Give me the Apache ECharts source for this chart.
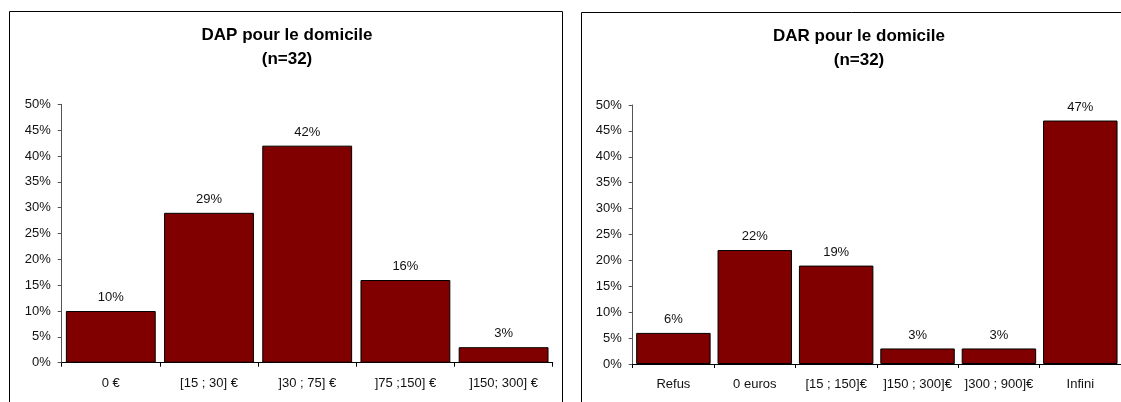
<!DOCTYPE html>
<html>
<head>
<meta charset="utf-8">
<script src="https://cdn.jsdelivr.net/npm/echarts@6/dist/echarts.min.js"></script>
<style>
html,body{margin:0;padding:0;background:#fff;}
#chart{width:1121px;height:402px;}
</style>
</head>
<body>
<div id="chart"></div>
<script>
const dapTitle = 'DAP pour le domicile\n(n=32)';
const darTitle = 'DAR pour le domicile\n(n=32)';
const dapCategories = ['0 €', '[15 ; 30] €', ']30 ; 75] €', ']75 ;150] €', ']150; 300] €'];
const dapValues = [10, 29, 42, 16, 3];
const darCategories = ['Refus', '0 euros', '[15 ; 150]€', ']150 ; 300]€', ']300 ; 900]€', 'Infini'];
const darValues = [6, 22, 19, 3, 3, 47];

const FONT = '"Liberation Sans", Arial, sans-serif';
const BAR = '#800000';

function yAxis(gi) {
  return {
    type: 'value', gridIndex: gi, min: 0, max: 50, interval: 5,
    axisLine: { show: true, lineStyle: { color: '#555', width: 1 } },
    axisTick: { show: true, length: 4, lineStyle: { color: '#555' } },
    splitLine: { show: false },
    axisLabel: { formatter: '{value}%', color: '#111', fontSize: 13, fontFamily: FONT, margin: 11 }
  };
}
function xAxis(gi, cats) {
  return {
    type: 'category', gridIndex: gi, data: cats,
    axisLine: { show: true, lineStyle: { color: '#000', width: 1 } },
    axisTick: { show: true, length: 4, alignWithLabel: false, lineStyle: { color: '#000' } },
    axisLabel: { color: '#111', fontSize: 13, fontFamily: FONT, margin: 14, interval: 0 }
  };
}
function bars(gi, vals) {
  return {
    type: 'bar', xAxisIndex: gi, yAxisIndex: gi, data: vals,
    barCategoryGap: '8.5%',
    itemStyle: { color: BAR, borderColor: '#000', borderWidth: 1 },
    label: { show: true, position: 'top', distance: 7, formatter: '{c}%', color: '#111', fontSize: 13, fontFamily: FONT },
    animation: false
  };
}

const chart = echarts.init(document.getElementById('chart'), null, { renderer: 'canvas' });
chart.setOption({
  animation: false,
  backgroundColor: '#fff',
  graphic: [
    { type: 'rect', shape: { x: 9.5, y: 11.5, width: 553, height: 420 }, style: { fill: 'none', stroke: '#000', lineWidth: 1 }, silent: true },
    { type: 'rect', shape: { x: 581.5, y: 12.5, width: 600, height: 420 }, style: { fill: 'none', stroke: '#000', lineWidth: 1 }, silent: true }
  ],
  title: [
    { text: dapTitle, left: 287, top: 23, textAlign: 'center', padding: 0,
      textStyle: { fontSize: 17, fontWeight: 'bold', color: '#000', fontFamily: FONT, lineHeight: 24 } },
    { text: darTitle, left: 859, top: 24, textAlign: 'center', padding: 0,
      textStyle: { fontSize: 17, fontWeight: 'bold', color: '#000', fontFamily: FONT, lineHeight: 24 } }
  ],
  grid: [
    { left: 61.7, top: 104.3, width: 491, height: 258.4, containLabel: false },
    { left: 632.7, top: 105, width: 492, height: 259, containLabel: false }
  ],
  xAxis: [xAxis(0, dapCategories), xAxis(1, darCategories)],
  yAxis: [yAxis(0), yAxis(1)],
  series: [bars(0, dapValues), bars(1, darValues)]
});
</script>
</body>
</html>
